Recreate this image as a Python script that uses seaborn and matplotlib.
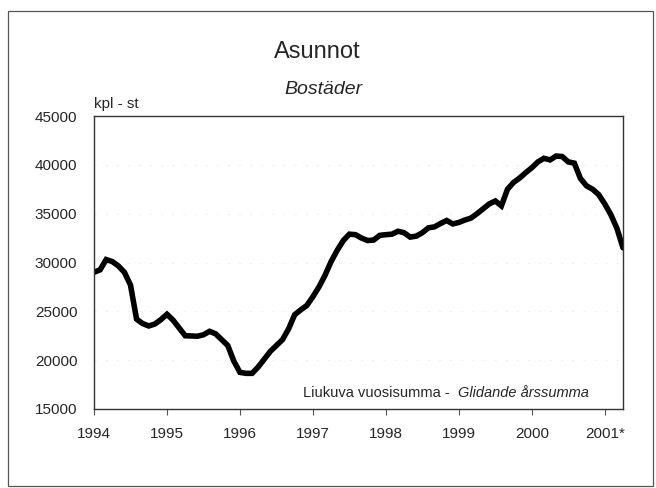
import matplotlib
matplotlib.use("Agg")
import matplotlib.pyplot as plt
from matplotlib import font_manager
from matplotlib.patches import Rectangle
import seaborn as sns
import pandas as pd

# Monthly moving annual sum, Jan 1994 .. Apr 2001
values = [
    29000, 29250, 30300, 30100, 29650, 29000, 27700, 24200, 23750, 23500,
    23700, 24150, 24700, 24100, 23300, 22500, 22480, 22450, 22600, 22950,
    22700, 22100, 21500, 19900, 18750, 18650, 18650, 19300, 20100, 20900,
    21500, 22100, 23200, 24650, 25150, 25600, 26500, 27500, 28700, 30100,
    31250, 32250, 32900, 32850, 32500, 32250, 32300, 32780, 32850, 32900,
    33200, 33050, 32600, 32700, 33050, 33550, 33650, 34000, 34300, 33950,
    34100, 34350, 34550, 35000, 35500, 36000, 36300, 35800, 37500, 38200,
    38650, 39200, 39700, 40300, 40670, 40500, 40900, 40850, 40300, 40170,
    38600, 37850, 37500, 36950, 36000, 34900, 33500, 31500,
]
year_labels = ["1994", "1995", "1996", "1997", "1998", "1999", "2000", "2001*"]
y_ticks = [15000, 20000, 25000, 30000, 35000, 40000, 45000]

title = "Asunnot"
subtitle = "Bostäder"
unit = "kpl - st"
note_fi = "Liukuva vuosisumma -  "
note_sv = "Glidande årssumma"

names = {f.name for f in font_manager.fontManager.ttflist}
narrow = "Liberation Sans Narrow" if "Liberation Sans Narrow" in names else "Liberation Sans"

sns.set_theme(style="white")
plt.rcParams["font.family"] = [narrow, "DejaVu Sans"]

df = pd.DataFrame({"month": range(len(values)), "value": values})

fig = plt.figure(figsize=(6.56, 4.88), dpi=100)
fig.patch.set_facecolor("white")
fig.patches.append(Rectangle((8 / 656, 1 - 486 / 488), 645 / 656, 475 / 488,
                             transform=fig.transFigure, fill=False,
                             edgecolor="#555555", lw=0.9))

ax = fig.add_axes([94 / 656, 1 - 409 / 488, 529 / 656, 293 / 488])
sns.lineplot(data=df, x="month", y="value", ax=ax, color="black", lw=4.0,
             solid_joinstyle="miter")

ax.set_xlim(0, len(values) - 1)
ax.set_ylim(15000, 45000)
ax.set_xticks([12 * i for i in range(len(year_labels))])
ax.set_xticklabels(year_labels, fontsize=11)
ax.set_yticks(y_ticks)
ax.set_yticklabels([str(v) for v in y_ticks], fontsize=11)
ax.tick_params(axis="x", length=4, width=0.8, color="#555555", pad=9, bottom=True)
ax.tick_params(axis="y", length=0, pad=12)
ax.set_xlabel("")
ax.set_ylabel("")
for s in ax.spines.values():
    s.set_color("#333333")
    s.set_linewidth(1.0)
for v in y_ticks[1:-1]:
    ax.axhline(v, color="#efefef", lw=0.8, ls=(0, (2, 8)), zorder=0)

fig.text(317 / 656, 1 - 52 / 488, title, ha="center", va="center", fontsize=17)
fig.text(323 / 656, 1 - 90 / 488, subtitle, ha="center", va="center",
         fontsize=14, style="italic")
fig.text(94 / 656, 1 - 104 / 488, unit, ha="left", va="center", fontsize=11)
t1 = ax.text(0.395, 0.055, note_fi, transform=ax.transAxes, ha="left",
             va="center", fontsize=10.5)
fig.canvas.draw()
bb = t1.get_window_extent().transformed(ax.transAxes.inverted())
ax.text(bb.x1, 0.055, note_sv, transform=ax.transAxes, ha="left",
        va="center", fontsize=10.5, style="italic")

fig.savefig("out.png", dpi=100)
